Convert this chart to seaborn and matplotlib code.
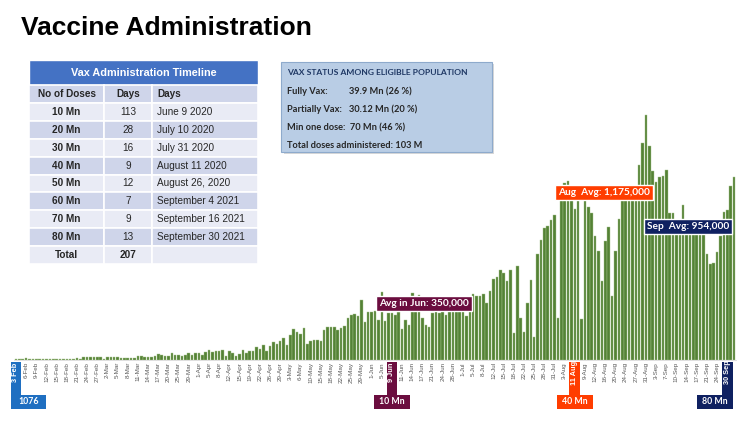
import numpy as np
import matplotlib
matplotlib.use("Agg")
import matplotlib.pyplot as plt
import matplotlib.transforms as mtransforms
from matplotlib.patches import Rectangle
import seaborn as sns

# -------------------------------------------------
# DATA
# -------------------------------------------------
# daily doses administered (thousands), one bar per reporting day, 3 Feb -> 30 Sep
doses_k = [
    7, 7, 7, 14, 7, 7, 7, 7, 7, 7, 7, 7, 9, 9, 9, 9, 10, 10, 14, 7,
    19, 21, 21, 20, 21, 19, 7, 21, 21, 20, 21, 12, 12, 12, 16, 16, 28, 28, 19, 19,
    19, 30, 44, 37, 30, 30, 49, 37, 37, 30, 35, 49, 37, 47, 47, 35, 56, 72, 58, 65,
    65, 68, 30, 61, 49, 28, 42, 70, 47, 65, 61, 89, 79, 103, 61, 96, 126, 114, 131, 154,
    103, 177, 219, 196, 182, 224, 112, 135, 142, 142, 131, 208, 231, 231, 229, 212, 224, 236, 294, 313,
    322, 310, 422, 266, 338, 334, 341, 278, 478, 271, 327, 327, 315, 338, 217, 280, 245, 469, 441, 455,
    294, 245, 231, 329, 343, 329, 343, 315, 343, 350, 350, 350, 343, 308, 343, 460, 448, 448, 460, 401,
    483, 565, 579, 630, 607, 555, 630, 187, 658, 292, 198, 397, 560, 159, 742, 840, 922, 938, 980, 1015,
    294, 1176, 1237, 1253, 1162, 1057, 1169, 287, 1155, 1071, 1029, 868, 763, 553, 833, 931, 448, 763, 987, 1169,
    1183, 1190, 1176, 1162, 1365, 1519, 1715, 1498, 1323, 1246, 1281, 1288, 1330, 1029, 1029, 931, 945, 1085, 938, 924,
    952, 917, 931, 910, 742, 672, 679, 756, 868, 1036, 1050, 1218, 1281,
]

# one label every third bar
tick_labels = [
    "3 Feb", "6-Feb", "9-Feb", "12-Feb", "15-Feb", "18-Feb", "21-Feb", "24-Feb", "27-Feb",
    "2-Mar", "5-Mar", "8-Mar", "11-Mar", "14-Mar", "17-Mar", "20-Mar", "25-Mar", "29-Mar",
    "1-Apr", "5-Apr", "8-Apr", "12-Apr", "15-Apr", "19-Apr", "22-Apr", "26-Apr", "29-Apr",
    "3-May", "6-May", "10-May", "15-May", "18-May", "22-May", "25-May", "29-May",
    "1-Jun", "5-Jun", "9 Jun", "11-Jun", "14-Jun", "17-Jun", "21-Jun", "24-Jun", "28-Jun",
    "1-Jul", "5-Jul", "8-Jul", "12-Jul", "15-Jul", "18-Jul", "22-Jul", "25-Jul", "28-Jul", "31-Jul",
    "3-Aug", "11 Aug", "9-Aug", "12-Aug", "16-Aug", "20-Aug", "24-Aug", "27-Aug", "31-Aug",
    "3-Sep", "7-Sep", "10-Sep", "14-Sep", "17-Sep", "21-Sep", "24-Sep", "30 Sep",
]

# milestone ticks drawn as coloured flags: label -> (colour, milestone, box alignment)
milestones = {
    "3 Feb": ("#1f6fc1", "1076", "left"),
    "9 Jun": ("#6b0d3f", "10 Mn", "center"),
    "11 Aug": ("#ff3d00", "40 Mn", "center"),
    "30 Sep": ("#0f2161", "80 Mn", "right"),
}

# monthly average call-outs: text, colour, centre (px)
avg_labels = [
    ("Avg in Jun: 350,000", "#6b0d3f", 424, 303.5),
    ("Aug  Avg: 1,175,000", "#ff3d00", 604, 192.5),
    ("Sep  Avg: 954,000", "#0f2161", 688, 226.5),
]

table_doses = ["10 Mn", "20 Mn", "30 Mn", "40 Mn", "50 Mn", "60 Mn", "70 Mn", "80 Mn"]
table_days = [113, 28, 16, 9, 12, 7, 9, 13]
table_dates = ["June 9 2020", "July 10 2020", "July 31 2020", "August 11 2020",
               "August 26, 2020", "September 4 2021", "September 16 2021", "September 30 2021"]

status_title = "VAX STATUS AMONG ELIGIBLE POPULATION"
status_rows = [
    ("Fully Vax:", "39.9 Mn (26 %)"),
    ("Partially Vax:", "30.12 Mn (20 %)"),
    ("Min one dose:  70 Mn (46 %)", ""),
    ("Total doses administered: 103 M", ""),
]

# -------------------------------------------------
# FIGURE
# -------------------------------------------------
W, H = 750, 422
sns.set_theme(style="white")
plt.rcParams["font.family"] = ["Liberation Sans", "DejaVu Sans"]

fig = plt.figure(figsize=(W / 100, H / 100), dpi=100)
fig.patch.set_facecolor("white")

ax = fig.add_axes([14.3 / W, 62 / H, 721.4 / W, 300 / H])

x = np.arange(len(doses_k))
sns.barplot(x=x, y=doses_k, color="#548235", saturation=1, width=0.75,
            edgecolor="#a8c48e", linewidth=0.3, ax=ax)

ax.set_ylim(0, 2100)
ax.set_xlim(-0.5, len(doses_k) - 0.5)
ax.set_yticks([])
ax.set_ylabel("")
ax.set_xlabel("")
for s in ["top", "right", "left"]:
    ax.spines[s].set_visible(False)
ax.spines["bottom"].set_color("#d9d9d9")
ax.spines["bottom"].set_linewidth(0.6)

tick_pos = np.arange(len(tick_labels)) * 3
ax.set_xticks(tick_pos)
ax.set_xticklabels(["" if t in milestones else t for t in tick_labels],
                   rotation=90, fontsize=4.5, color="#595959")
ax.tick_params(axis="x", length=0, pad=1.5)


def fx(px):
    return px / W


def fy(py):
    return 1 - py / H


def rect(x0, y0, x1, y1, color, **kw):
    fig.add_artist(Rectangle((fx(x0), fy(y1)), (x1 - x0) / W, (y1 - y0) / H,
                             transform=fig.transFigure, facecolor=color, **kw))


# milestone flags under the axis
blend = mtransforms.blended_transform_factory(ax.transData, fig.transFigure)
for lab, (col, mtext, align) in milestones.items():
    i = tick_labels.index(lab) * 3
    ax.add_artist(Rectangle((i - 1.6, fy(395)), 3.2, (395 - 362) / H,
                            transform=blend, facecolor=col, edgecolor="none",
                            clip_on=False))
    ax.text(i, fy(372.5), lab, transform=blend, rotation=90, ha="center", va="center",
            color="white", fontsize=5.3, fontweight="bold", clip_on=False)
    bw = 10.6
    if align == "left":
        b0 = i - 1.6
    elif align == "right":
        b0 = i + 1.6 - bw
    else:
        b0 = i - bw / 2
    ax.add_artist(Rectangle((b0, fy(409)), bw, 14 / H, transform=blend,
                            facecolor=col, edgecolor="none", clip_on=False))
    ax.text(b0 + bw / 2, fy(402), mtext, transform=blend, ha="center", va="center",
            color="white", fontsize=6.3, fontweight="bold", clip_on=False,
            family=["Lato", "DejaVu Sans"])

# monthly averages
for txt, col, cx, cy in avg_labels:
    fig.text(fx(cx), fy(cy), txt, ha="center", va="center", color="white",
             fontsize=7.3, fontweight="bold", family=["Lato", "DejaVu Sans"],
             bbox=dict(boxstyle="square,pad=0.3", facecolor=col, edgecolor="white", lw=1))

# title
fig.text(fx(21), fy(28), "Vaccine Administration", fontsize=19, fontweight="bold",
         ha="left", va="center", color="black")

# -------------------------------------------------
# TABLE
# -------------------------------------------------
cols = [29, 104, 152, 258]
row_h = 17.9
rect(cols[0], 60, cols[3], 85, "#4472c4", edgecolor="white", lw=1)
fig.text(fx(143.5), fy(72.5), "Vax Administration Timeline", ha="center", va="center",
         color="white", fontsize=7.8, fontweight="bold")

rows = [("No of Doses", "Days", "Days")]
rows += [(d, str(n), dt) for d, n, dt in zip(table_doses, table_days, table_dates)]
rows += [("Total", str(sum(table_days)), "")]

for r, (c1, c2, c3) in enumerate(rows):
    y0 = 85 + r * row_h
    col = "#cfd5ea" if r % 2 == 0 else "#e9ebf5"
    for k in range(3):
        rect(cols[k], y0, cols[k + 1], y0 + row_h, col, edgecolor="white", lw=1.2)
    yc = fy(y0 + row_h / 2)
    bold2 = "bold" if r in (0, len(rows) - 1) else "normal"
    fig.text(fx(66.5), yc, c1, ha="center", va="center", fontsize=7.2,
             fontweight="bold", color="#262626")
    fig.text(fx(128), yc, c2, ha="center", va="center", fontsize=7.2,
             fontweight=bold2, color="#262626")
    fig.text(fx(157), yc, c3, ha="left", va="center", fontsize=7.2,
             fontweight="bold" if r == 0 else "normal", color="#262626")

# -------------------------------------------------
# STATUS BOX
# -------------------------------------------------
rect(283.5, 64, 494, 154.5, "#bfbfbf", edgecolor="none", alpha=0.6)
rect(281, 62, 491.5, 152, "#b9cde5", edgecolor="#8eaacc", lw=0.8)
fig.text(fx(287), fy(72.5), status_title, ha="left", va="center", fontsize=6.1,
         fontweight="bold", color="#1f3864", family=["Lato", "DejaVu Sans"])
for k, (lab, val) in enumerate(status_rows):
    yc = fy(91.7 + k * 18)
    fig.text(fx(287), yc, lab, ha="left", va="center", fontsize=6.7,
             fontweight="bold", color="#262626", family=["Lato", "DejaVu Sans"])
    if val:
        fig.text(fx(349), yc, val, ha="left", va="center", fontsize=6.7,
                 fontweight="bold", color="#262626", family=["Lato", "DejaVu Sans"])

fig.savefig("out.png", dpi=100)
plt.close(fig)
